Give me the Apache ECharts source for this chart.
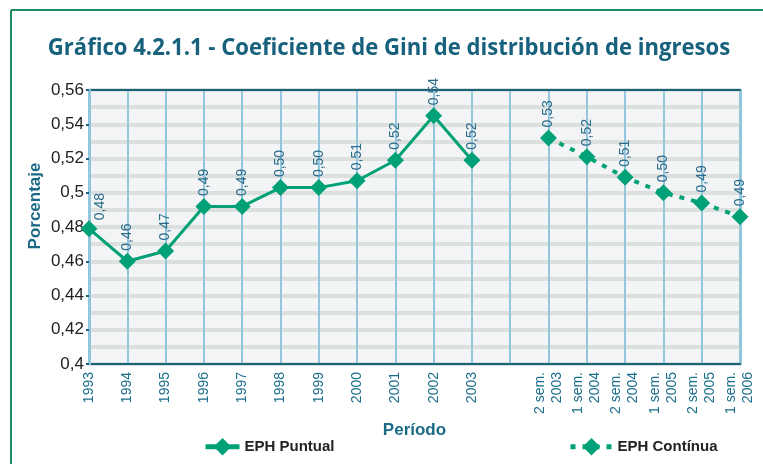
<!DOCTYPE html>
<html>
<head>
<meta charset="utf-8">
<script src="https://cdn.jsdelivr.net/npm/echarts@6/dist/echarts.min.js"></script>
<style>html,body{margin:0;padding:0;background:#fff;}#c{width:763px;height:464px;}</style>
</head>
<body>
<div id="c"></div>
<script>
const categories = ['1993','1994','1995','1996','1997','1998','1999','2000','2001','2002','2003','',
  '2 sem.\n2003','1 sem.\n2004','2 sem.\n2004','1 sem.\n2005','2 sem.\n2005','1 sem.\n2006'];
const puntualValues = [0.479,0.460,0.466,0.492,0.492,0.503,0.503,0.507,0.519,0.545,0.519];
const puntualLabels = ['0,48','0,46','0,47','0,49','0,49','0,50','0,50','0,51','0,52','0,54','0,52'];
const continuaValues = [0.532,0.521,0.509,0.500,0.494,0.486];
const continuaLabels = ['0,53','0,52','0,51','0,50','0,49','0,49'];
const yTicks = ['0,4','0,42','0,44','0,46','0,48','0,5','0,52','0,54','0,56'];

const GREEN = '#00a176';
const FONT = 'Liberation Sans, Arial, sans-serif';

const puntualData = categories.map((c,i)=> i < puntualValues.length ? {
  value: puntualValues[i],
  label: i === 0 ? {position:[20, 0]} : {}
} : null);
const offset2 = categories.length - continuaValues.length;
const continuaData = categories.map((c,i)=> i >= offset2 ? continuaValues[i-offset2] : null);

const labelBase = {
  show: true, rotate: 90, align: 'left', verticalAlign: 'middle',
  position: 'top', distance: 2,
  fontFamily: FONT, fontSize: 14, color: '#2a6c8a'
};

const chart = echarts.init(document.getElementById('c'), null, {renderer:'canvas'});
chart.setOption({
  animation: false,
  backgroundColor: '#fff',
  graphic: [
    {type:'line', shape:{x1:11,y1:10,x2:763,y2:10}, style:{stroke:'#1f8a5e', lineWidth:2}},
    {type:'line', shape:{x1:11,y1:10,x2:11,y2:464}, style:{stroke:'#1f8a5e', lineWidth:2}},
    {type:'text', x:389, y:48, scaleX:0.92,
     style:{text:'Gráfico 4.2.1.1 - Coeficiente de Gini de distribución de ingresos',
       font:'bold 24px "Open Sans", sans-serif', fill:'#17617d', textAlign:'center', textVerticalAlign:'middle'}},
    {type:'text', x:35, y:206, rotation:Math.PI/2,
     style:{text:'Porcentaje', font:'bold 17px "Liberation Sans", Arial, sans-serif', fill:'#1b6a85',
       textAlign:'center', textVerticalAlign:'middle'}}
  ],
  legend: [
    {data:['EPH Puntual'], left: 198, top: 433, itemWidth: 34, itemHeight: 22, itemGap: 6,
     lineStyle:{width:5},
     textStyle:{fontFamily:FONT, fontWeight:'bold', fontSize:15, color:'#222'}},
    {data:['EPH Contínua'], left: 563, top: 433, itemWidth: 42, itemHeight: 22, itemGap: 6,
     lineStyle:{width:5},
     textStyle:{fontFamily:FONT, fontWeight:'bold', fontSize:15, color:'#222'}}
  ],
  grid: {left: 89, right: 23, top: 90, bottom: 100, show: true, backgroundColor: '#f3f4f6', borderWidth: 0},
  xAxis: [
    {type:'category', data: categories, boundaryGap: false,
     axisLine:{lineStyle:{color:'#1b6378', width:2}},
     axisTick:{show:false},
     axisLabel:{rotate:90, interval:0, margin:8, fontFamily:FONT, fontSize:14, color:'#1b6e8c', lineHeight:17},
     splitLine:{show:true, lineStyle:{color:'#93c5dc', width:2}},
     name:'Período', nameLocation:'middle', nameGap:55,
     nameTextStyle:{fontFamily:FONT, fontWeight:'bold', fontSize:17, color:'#1b6a85'}},
    {type:'category', data: categories, boundaryGap:false, position:'top',
     axisLine:{lineStyle:{color:'#1b6378', width:2}}, axisTick:{show:false}, axisLabel:{show:false}}
  ],
  yAxis: [
    {type:'value', min:0.4, max:0.56, interval:0.02, z: 3,
     axisLine:{show:true, lineStyle:{color:'#93c5dc', width:3}},
     axisTick:{show:true, length:3, lineStyle:{color:'#1b6378', width:2}},
     axisLabel:{margin:5, fontFamily:FONT, fontSize:17, color:'#222',
       formatter:(v)=> yTicks[Math.round((v-0.4)/0.02)]},
     splitLine:{show:false}},
    {type:'value', min:0.4, max:0.56, interval:0.01, position:'right',
     axisLine:{show:true, lineStyle:{color:'#93c5dc', width:3}},
     axisTick:{show:false}, axisLabel:{show:false},
     splitLine:{show:true, lineStyle:{color:'#dbe0df', width:4}}}
  ],
  series: [
    {name:'EPH Puntual', type:'line', data: puntualData, connectNulls:false,
     symbol:'diamond', symbolSize:[17,17], z:5,
     lineStyle:{color:GREEN, width:3}, itemStyle:{color:GREEN},
     label: Object.assign({}, labelBase, {formatter:(p)=> puntualLabels[p.dataIndex]})},
    {name:'EPH Contínua', type:'line', data: continuaData,
     symbol:'diamond', symbolSize:[17,17], z:5,
     lineStyle:{color:GREEN, width:4, type:[5,7]}, itemStyle:{color:GREEN},
     label: Object.assign({}, labelBase, {formatter:(p)=> continuaLabels[p.dataIndex-offset2]})}
  ]
});
</script>
</body>
</html>
